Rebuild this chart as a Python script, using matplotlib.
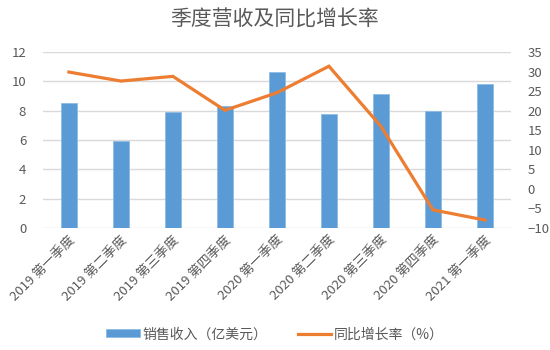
import matplotlib
matplotlib.use('Agg')
import matplotlib.pyplot as plt
import numpy as np

plt.rcParams['font.family'] = ['Noto Sans CJK SC', 'DejaVu Sans']

# Quarterly revenue (100M USD) and year-over-year growth (%)
quarters = ['2019 第一季度', '2019 第二季度', '2019 第三季度', '2019 第四季度',
            '2020 第一季度', '2020 第二季度', '2020 第三季度', '2020 第四季度',
            '2021 第一季度']
revenue = [8.55, 5.95, 7.9, 8.35, 10.65, 7.8, 9.15, 7.95, 9.8]
growth = [29.9, 27.6, 28.8, 20.1, 24.6, 31.4, 16.0, -5.4, -8.0]

text_color = '#595959'
grid_color = '#d9d9d9'

fig = plt.figure(figsize=(5.5, 3.5), dpi=100)
ax = fig.add_axes([0.078, 0.349, 0.851, 0.502])
x = np.arange(len(quarters))

ax.bar(x, revenue, width=0.3, color='#5B9BD5', edgecolor='#8dbce6',
       linewidth=0.6, label='销售收入（亿美元）', zorder=2)
ax.set_ylim(0, 12)
ax.set_yticks(np.arange(0, 13, 2))
ax.set_xlim(-0.5, len(quarters) - 0.5)
ax.yaxis.grid(True, color=grid_color, linewidth=1, zorder=0)
ax.set_axisbelow(True)
for s in ax.spines.values():
    s.set_visible(False)
ax.tick_params(length=0, colors=text_color, labelsize=9.5)
ax.tick_params(axis='y', pad=12)
ax.set_xticks(x)
ax.set_xticklabels(quarters, rotation=45, ha='right', rotation_mode='anchor',
                   fontsize=9.5, color=text_color)
ax.tick_params(axis='x', pad=4)

ax2 = ax.twinx()
ax2.plot(x, growth, color='#ED7D31', linewidth=2.3, label='同比增长率（%）',
         zorder=3, solid_joinstyle='miter')
ax2.set_ylim(-10, 35)
ax2.set_yticks(np.arange(-10, 36, 5))
for s in ax2.spines.values():
    s.set_visible(False)
ax2.tick_params(length=0, colors=text_color, labelsize=9.5, pad=12)

fig.suptitle('季度营收及同比增长率', y=0.975, fontsize=15, color=text_color)

h1, l1 = ax.get_legend_handles_labels()
h2, l2 = ax2.get_legend_handles_labels()
fig.legend(h1 + h2, l1 + l2, loc='center', bbox_to_anchor=(0.5, 0.045),
           ncol=2, frameon=False, fontsize=10, labelcolor=text_color,
           handlelength=2.4, handleheight=0.5, columnspacing=2.2,
           handletextpad=0.2)

fig.savefig('out.png', dpi=100)
